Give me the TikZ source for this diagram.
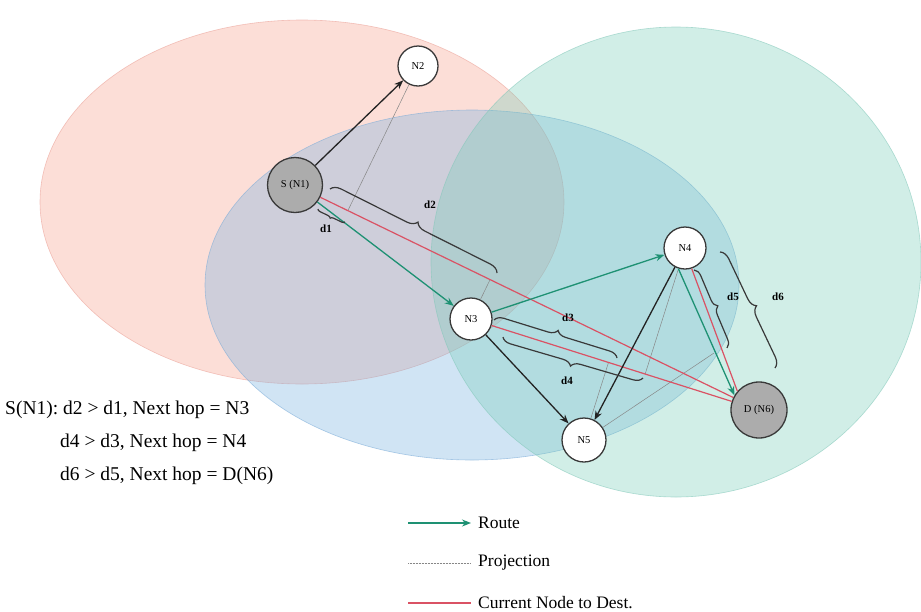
\documentclass[tikz,border=0pt]{standalone}
\usepackage{fontspec}
\setmainfont{Liberation Serif}
\usetikzlibrary{arrows.meta,calc,decorations.pathreplacing}
\frenchspacing
\definecolor{ellred}{RGB}{248,178,162}
\definecolor{ellredb}{RGB}{235,160,150}
\definecolor{ellblue}{RGB}{120,178,225}
\definecolor{ellblueb}{RGB}{120,170,215}
\definecolor{ellgreen}{RGB}{118,205,185}
\definecolor{ellgreenb}{RGB}{130,200,185}
\definecolor{routegreen}{RGB}{30,145,115}
\definecolor{destred}{RGB}{218,82,100}
\definecolor{nodegray}{RGB}{172,172,172}
\definecolor{darkline}{RGB}{35,35,35}
\definecolor{projgray}{RGB}{135,135,135}
\begin{document}
\begin{tikzpicture}[x=1pt,y=-1pt,
  nd/.style={circle,draw=darkline!90,line width=1.3pt,fill=white,inner sep=0pt,font=\fontsize{10.5}{12}\selectfont},
  grayn/.style={nd,fill=nodegray},
  route/.style={draw=routegreen,line width=1.3pt,-{Stealth[length=9pt,width=7pt]}},
  blk/.style={draw=darkline,line width=1.3pt,-{Stealth[length=9pt,width=7pt]}},
  destline/.style={draw=destred,line width=1.2pt},
  proj/.style={draw=projgray,line width=0.5pt},
  brc/.style={draw=darkline!90,line width=1.2pt,decorate},
  dlab/.style={font=\bfseries\fontsize{11}{13}\selectfont,inner sep=1pt},
  txt/.style={font=\fontsize{19.5}{22}\selectfont,anchor=west,inner sep=0pt},
  legtxt/.style={font=\fontsize{17.5}{20}\selectfont,anchor=west,inner sep=0pt}
]
\useasboundingbox (0,0) rectangle (921,611);
\fill[white] (0,0) rectangle (921,611);
% ellipses
\filldraw[fill=ellred,fill opacity=0.42,draw=ellredb,draw opacity=0.6,line width=0.6pt] (302,202) ellipse [x radius=262,y radius=182];
\filldraw[fill=ellblue,fill opacity=0.34,draw=ellblueb,draw opacity=0.6,line width=0.6pt] (472,285) ellipse [x radius=267,y radius=175];
\filldraw[fill=ellgreen,fill opacity=0.33,draw=ellgreenb,draw opacity=0.6,line width=0.6pt] (676,262) ellipse [x radius=245,y radius=235];
% nodes
\node[nd,minimum size=40pt] (N2) at (418,66) {N2};
\node[grayn,minimum size=55pt] (S) at (295,185) {S (N1)};
\node[nd,minimum size=42pt] (N3) at (471,319) {N3};
\node[nd,minimum size=42pt] (N4) at (685,248) {N4};
\node[nd,minimum size=44pt] (N5) at (584,440) {N5};
\node[grayn,minimum size=56pt] (D) at (759,410) {D (N6)};
% projection feet
\coordinate (f2) at ($(S)!(N2)!(D)$);
\coordinate (f3) at ($(S)!(N3)!(D)$);
\coordinate (f4) at ($(N3)!(N4)!(D)$);
\coordinate (f5) at ($(N3)!(N5)!(D)$);
\coordinate (g5) at (714,353);
% projections
\draw[proj] (N2) -- (f2);
\draw[proj] (N3) -- (f3);
\draw[proj] (N4) -- (f4);
\draw[proj] (N5) -- (f5);
\draw[proj] (N5) -- (g5);
% edges
\draw[blk] (S) -- (N2);
\draw[destline] (S) -- (D);
\draw[route] (S) -- (N3);
\draw[route] (N3) -- (N4);
\draw[destline] (N3) -- (D);
\draw[blk] (N3) -- (N5);
\draw[blk] (N4) -- (N5);
\draw[destline] (N4.-72) -- (D.139);
\draw[route] (N4.-108) -- (D.149);
% braces
\coordinate (b1a) at (318,209); \coordinate (b1b) at (345,222);
\coordinate (b2a) at (330,189); \coordinate (b2b) at (497,273);
\coordinate (b3a) at (494,320); \coordinate (b3b) at (617,358);
\coordinate (b4a) at (503,337); \coordinate (b4b) at (643,378);
\coordinate (b5a) at (694,270); \coordinate (b5b) at (727,348);
\coordinate (b6a) at (720,252); \coordinate (b6b) at (775,368);
\draw[brc,decoration={brace,amplitude=3pt,mirror}] (b1a) -- (b1b);
\draw[brc,decoration={brace,amplitude=10pt}] (b2a) -- (b2b);
\draw[brc,decoration={brace,amplitude=9pt}] (b3a) -- (b3b);
\draw[brc,decoration={brace,amplitude=9pt,mirror}] (b4a) -- (b4b);
\draw[brc,decoration={brace,amplitude=8pt}] (b5a) -- (b5b);
\draw[brc,decoration={brace,amplitude=10pt}] (b6a) -- (b6b);
\node[dlab] (d1) at (326,229) {d1};
\node[dlab] (d2) at (430,205) {d2};
\node[dlab] (d3) at (568,318) {d3};
\node[dlab] (d4) at (567,381) {d4};
\node[dlab] (d5) at (733,297) {d5};
\node[dlab] (d6) at (778,297) {d6};
% left text
\node[txt] (t1) at (5,410) {S(N1): d2 > d1, Next hop = N3};
\node[txt] (t2) at (60,443) {d4 > d3, Next hop = N4};
\node[txt] (t3) at (60,476) {d6 > d5, Next hop = D(N6)};
% legend
\coordinate (l1a) at (408,523); \coordinate (l1b) at (471,523);
\coordinate (l2a) at (408,563); \coordinate (l2b) at (471,563);
\coordinate (l3a) at (408,603); \coordinate (l3b) at (471,603);
\draw[route] (l1a) -- (l1b);
\draw[proj,densely dotted] (l2a) -- (l2b);
\draw[destline] (l3a) -- (l3b);
\node[legtxt] (lg1) at (478,523) {Route};
\node[legtxt] (lg2) at (478,563) {Projection};
\node[legtxt] (lg3) at (478,603) {Current Node to Dest.};
\end{tikzpicture}
\end{document}
